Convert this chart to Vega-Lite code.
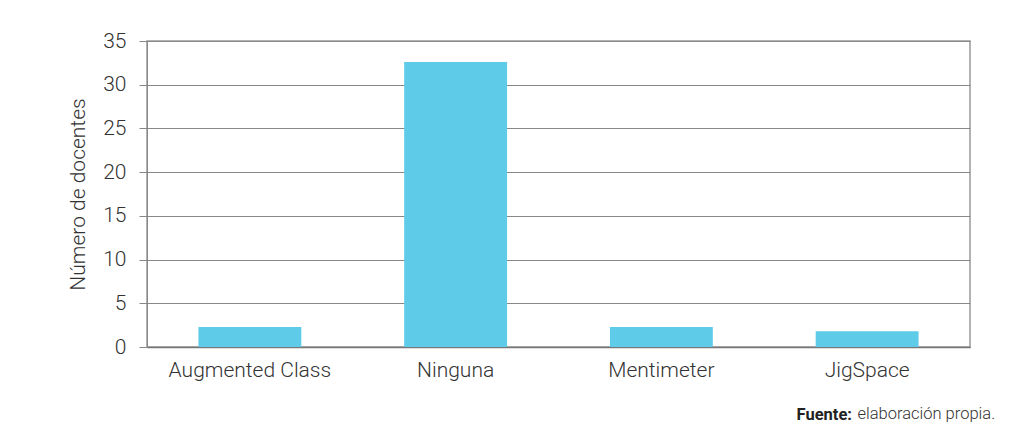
{
  "$schema": "https://vega.github.io/schema/vega-lite/v6.json",
  "autosize": "none",
  "width": 823,
  "height": 306,
  "padding": {"left": 147, "top": 41, "right": 56, "bottom": 99},
  "data": {"values": [
    {"herramienta": "Augmented Class", "docentes": 2.3},
    {"herramienta": "Ninguna", "docentes": 32.6},
    {"herramienta": "Mentimeter", "docentes": 2.3},
    {"herramienta": "JigSpace", "docentes": 1.8}
  ]},
  "mark": {"type": "bar", "color": "#5ecbe8"},
  "encoding": {
    "x": {
      "field": "herramienta", "type": "nominal", "sort": null,
      "scale": {"paddingInner": 0.5, "paddingOuter": 0.25},
      "axis": {
        "title": "elaboración propia.", "titleX": 710, "titleY": 66, "titleAlign": "left", "titleBaseline": "middle",
        "titleFont": "Roboto", "titleFontSize": 16.5, "titleFontWeight": 300, "titleColor": "#333333",
        "labelAngle": 0, "ticks": false, "labelPadding": 12, "labelFont": "Roboto", "labelFontSize": 21,
        "labelFontWeight": 300, "labelColor": "#333333", "domainColor": "#777777", "domainWidth": 1.5
      }
    },
    "y": {
      "field": "docentes", "type": "quantitative",
      "scale": {"domain": [0, 35], "nice": false},
      "axis": {
        "values": [0, 5, 10, 15, 20, 25, 30, 35],
        "title": "Número de docentes", "titleFont": "Roboto", "titleFontSize": 21, "titleFontWeight": 300,
        "titleColor": "#333333", "titlePadding": 14,
        "labelFont": "Roboto", "labelFontSize": 21, "labelFontWeight": 300, "labelColor": "#333333",
        "labelPadding": 13, "tickSize": 8, "tickColor": "#888888", "domainColor": "#888888",
        "gridColor": "#888888", "gridWidth": 1, "gridOpacity": 1
      }
    }
  },
  "title": {
    "text": "Fuente:", "orient": "bottom", "anchor": "end", "frame": "group",
    "font": "Roboto", "fontSize": 16.5, "fontWeight": "bold", "color": "#222222", "dx": -118, "offset": 0, "dy": -15
  },
  "config": {
    "view": {"stroke": "#999999", "strokeWidth": 1.5},
    "background": "white"
  }
}
